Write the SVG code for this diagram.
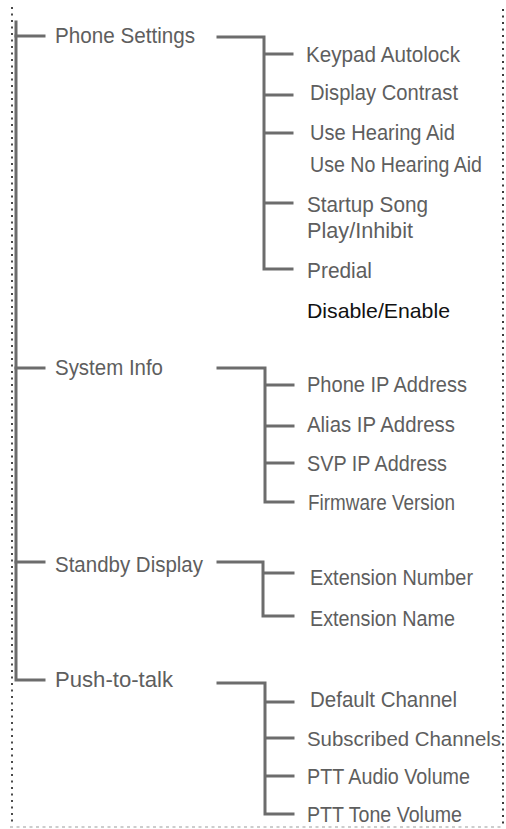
<svg xmlns="http://www.w3.org/2000/svg" width="506" height="829" viewBox="0 0 506 829">
<style>
.lbl{font-family:"Liberation Sans",Arial,sans-serif;font-size:22px;fill:#5e5e5e;}
.sm{font-size:20px;}
.plain{font-family:"Liberation Sans",Arial,sans-serif;font-size:21px;fill:#111;}
.ln{stroke:#6c6c6c;stroke-width:3;fill:none;stroke-linecap:square;}
.dotL{stroke:#4a4a4a;stroke-width:2;stroke-dasharray:2 4.5;fill:none;}
.dotR{stroke:#3a3a3a;stroke-width:2;stroke-dasharray:2 4.5;fill:none;}
.dotB{stroke:#bdbdbd;stroke-width:1.5;stroke-dasharray:3 3.5;fill:none;}
</style>
<rect width="506" height="829" fill="#fff"/>
<g id="border">
<line class="dotL" x1="12" y1="7" x2="12" y2="825"/>
<line class="dotR" x1="503" y1="9" x2="503" y2="825"/>
<line class="dotB" x1="10" y1="827" x2="503" y2="827"/>
</g>
<g id="connectors">
<path class="ln" d="M16,22 V680 H44"/>
<path class="ln" d="M16,36 H44 M16,368 H44 M16,562 H44"/>
<path class="ln" d="M218,37 H264 V269 H292 M264,54 H292 M264,95 H292 M264,133 H292 M264,203 H292"/>
<path class="ln" d="M218,368 H265 V502 H293 M265,385 H293 M265,426 H293 M265,463 H293"/>
<path class="ln" d="M218,562 H263 V616 H293 M263,573 H293"/>
<path class="ln" d="M218,683 H265 V814 H293 M265,702 H293 M265,738 H293 M265,776 H293"/>
</g>
<g id="phone-settings"><text class="lbl" x="55" y="43" textLength="140" lengthAdjust="spacingAndGlyphs">Phone Settings</text></g>
<g id="keypad-autolock"><text class="lbl" x="306" y="62" textLength="154" lengthAdjust="spacingAndGlyphs">Keypad Autolock</text></g>
<g id="display-contrast"><text class="lbl" x="310" y="100" textLength="148" lengthAdjust="spacingAndGlyphs">Display Contrast</text></g>
<g id="hearing-aid">
<text class="lbl" x="310" y="140" textLength="145" lengthAdjust="spacingAndGlyphs">Use Hearing Aid</text>
<text class="lbl" x="310" y="172" textLength="172" lengthAdjust="spacingAndGlyphs">Use No Hearing Aid</text>
</g>
<g id="startup-song">
<text class="lbl" x="307" y="212" textLength="121" lengthAdjust="spacingAndGlyphs">Startup Song</text>
<text class="lbl" x="307" y="238" textLength="106" lengthAdjust="spacingAndGlyphs">Play/Inhibit</text>
</g>
<g id="predial">
<text class="lbl" x="307" y="278" textLength="65" lengthAdjust="spacingAndGlyphs">Predial</text>
<text class="plain" x="307" y="318" textLength="143" lengthAdjust="spacingAndGlyphs">Disable/Enable</text>
</g>
<g id="system-info"><text class="lbl" x="55" y="375" textLength="108" lengthAdjust="spacingAndGlyphs">System Info</text></g>
<g id="phone-ip"><text class="lbl" x="307" y="392" textLength="160" lengthAdjust="spacingAndGlyphs">Phone IP Address</text></g>
<g id="alias-ip"><text class="lbl" x="307" y="432" textLength="148" lengthAdjust="spacingAndGlyphs">Alias IP Address</text></g>
<g id="svp-ip"><text class="lbl" x="307" y="471" textLength="140" lengthAdjust="spacingAndGlyphs">SVP IP Address</text></g>
<g id="firmware"><text class="lbl" x="308" y="510" textLength="147" lengthAdjust="spacingAndGlyphs">Firmware Version</text></g>
<g id="standby-display"><text class="lbl" x="55" y="572" textLength="148" lengthAdjust="spacingAndGlyphs">Standby Display</text></g>
<g id="ext-number"><text class="lbl" x="310" y="585" textLength="163" lengthAdjust="spacingAndGlyphs">Extension Number</text></g>
<g id="ext-name"><text class="lbl" x="310" y="626" textLength="145" lengthAdjust="spacingAndGlyphs">Extension Name</text></g>
<g id="push-to-talk"><text class="lbl" x="55" y="687" textLength="118" lengthAdjust="spacingAndGlyphs">Push-to-talk</text></g>
<g id="default-channel"><text class="lbl" x="310" y="707" textLength="147" lengthAdjust="spacingAndGlyphs">Default Channel</text></g>
<g id="subscribed-channels"><text class="lbl sm" x="307" y="746" textLength="194" lengthAdjust="spacingAndGlyphs">Subscribed Channels</text></g>
<g id="ptt-audio"><text class="lbl" x="307" y="784" textLength="163" lengthAdjust="spacingAndGlyphs">PTT Audio Volume</text></g>
<g id="ptt-tone"><text class="lbl" x="307" y="822" textLength="155" lengthAdjust="spacingAndGlyphs">PTT Tone Volume</text></g>
</svg>
